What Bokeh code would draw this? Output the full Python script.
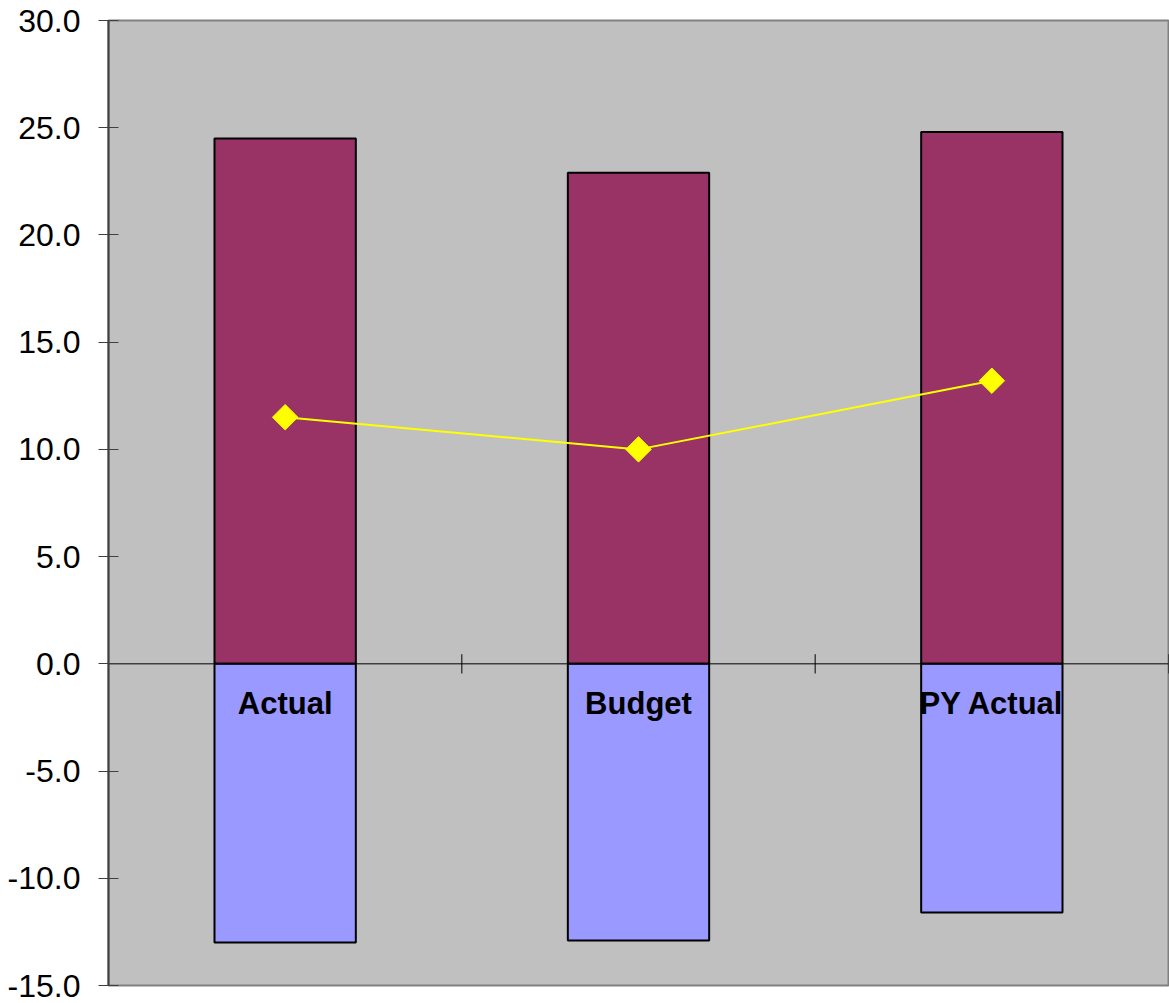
from bokeh.plotting import figure
from bokeh.models import FactorRange, Range1d, NumeralTickFormatter, FixedTicker
from bokeh.core.properties import value
from bokeh.embed import file_html
from bokeh.resources import INLINE

categories = ["Actual", "Budget", "PY Actual"]
positive_values = [24.5, 22.9, 24.8]
negative_values = [-13.0, -12.9, -11.6]
line_values = [11.5, 10.0, 13.2]
y_ticks = [-15, -10, -5, 0, 5, 10, 15, 20, 25, 30]

p = figure(
    width=1169, height=1003,
    x_range=FactorRange(factors=categories, range_padding=0),
    y_range=Range1d(-15, 30),
    output_backend="svg", toolbar_location=None,
    min_border_left=108, min_border_right=1, min_border_top=20, min_border_bottom=18,
)
p.background_fill_color = "#C0C0C0"
p.border_fill_color = "white"
p.outline_line_color = "#808080"
p.outline_line_width = 2
p.xgrid.visible = False
p.ygrid.visible = False
p.xaxis.visible = False

ax = p.yaxis[0]
ax.ticker = FixedTicker(ticks=y_ticks)
ax.formatter = NumeralTickFormatter(format="0.0")
ax.major_label_text_font = "Liberation Sans"
ax.major_label_text_font_size = "32px"
ax.major_label_text_color = "black"
ax.major_label_standoff = 18
ax.major_tick_in = 10
ax.major_tick_out = 10
ax.major_tick_line_color = "#404040"
ax.minor_tick_line_color = None
ax.axis_line_color = "#404040"
ax.axis_line_width = 2

# bars
p.vbar(x=categories, top=positive_values, bottom=0, width=0.4,
       fill_color="#993366", line_color="black", line_width=2)
p.vbar(x=categories, top=0, bottom=negative_values, width=0.4,
       fill_color="#9999FF", line_color="black", line_width=2)

# zero axis line with category boundary ticks
p.line(x=[(categories[0], -0.5), (categories[-1], 0.5)], y=[0, 0], line_color="black", line_width=1)
p.segment(x0=[(c, 0.5) for c in categories], y0=-0.45,
          x1=[(c, 0.5) for c in categories], y1=0.45,
          line_color="black", line_width=1)

# line series
p.line(x=categories, y=line_values, line_color="#FFFF00", line_width=2)
p.scatter(x=categories, y=line_values, marker="square", angle=0.785398, size=18,
          fill_color="#FFFF00", line_color="#FFFF00")

# category labels
p.text(x=categories, y=[-1.85] * 3, text=categories,
       text_font=value("Liberation Sans"), text_font_style="bold",
       text_font_size="31px", text_align="center", text_baseline="middle",
       text_color="black")

open("out.html", "w").write(file_html(p, INLINE))
